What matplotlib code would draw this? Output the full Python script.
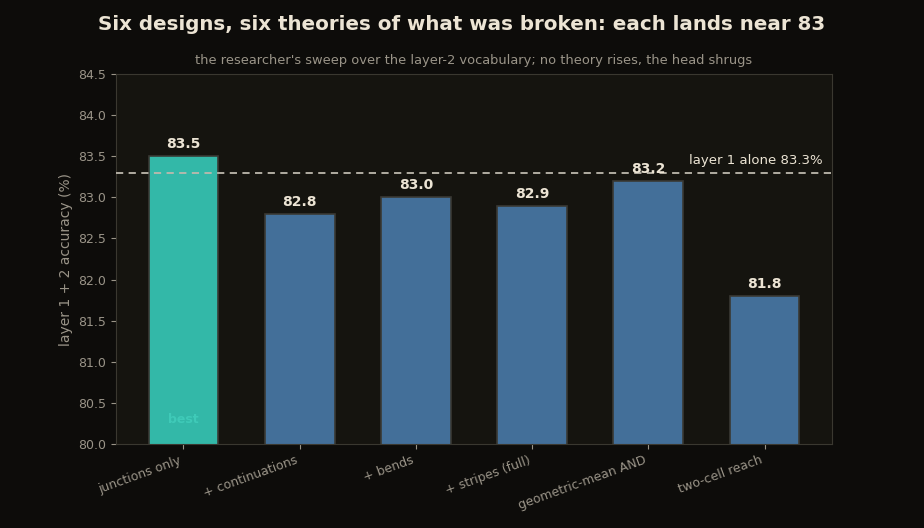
import matplotlib
matplotlib.use('Agg')
import matplotlib.pyplot as plt

labels = ['junctions only', '+ continuations', '+ bends', '+ stripes (full)',
          'geometric-mean AND', 'two-cell reach']
vals = [83.5, 82.8, 83.0, 82.9, 83.2, 81.8]
baseline = 83.3

bg = '#0d0c0a'
ax_bg = '#15140f'
txt = '#ece4d4'
muted = '#9a9488'
teal = '#33b8a8'
blue = '#436f99'

fig = plt.figure(figsize=(9.24, 5.28), dpi=100, facecolor=bg)
ax = fig.add_axes([116/924, 1-444/528, 716/924, 370/528])
ax.set_facecolor(ax_bg)

colors = [teal] + [blue]*(len(vals)-1)
x = range(len(vals))
ax.bar(x, vals, width=0.6, color=colors, edgecolor='#3a3934', linewidth=1.2, zorder=2)

for i, v in enumerate(vals):
    ax.text(i, v + 0.06, f'{v:.1f}', ha='center', va='bottom', color=txt,
            fontsize=10, fontweight='bold', zorder=4)

ax.axhline(baseline, color='#bdb8ad', linestyle='--', linewidth=1.3, dashes=(4, 3), zorder=3)
ax.text(5.5, baseline + 0.07, f'layer 1 alone {baseline}%', ha='right', va='bottom',
        color=txt, fontsize=9.5, zorder=4)

ax.text(0, 80.3, 'best', ha='center', va='center', color='#3fcab8',
        fontsize=9, fontweight='bold', zorder=4)

ax.set_ylim(80, 84.5)
ax.set_xlim(-0.58, 5.58)
ax.set_yticks([80.0 + 0.5*k for k in range(10)])
ax.set_yticklabels([f'{80.0 + 0.5*k:.1f}' for k in range(10)])
ax.set_xticks(list(x))
ax.set_xticklabels(labels, rotation=20, ha='right')
ax.tick_params(colors=muted, labelsize=9)
for s in ax.spines.values():
    s.set_color('#3a3830')
ax.set_ylabel('layer 1 + 2 accuracy (%)', color=muted, fontsize=10)
ax.set_title("the researcher's sweep over the layer-2 vocabulary; no theory rises, the head shrugs",
             color=muted, fontsize=9.4, pad=7)

fig.text(0.5, 1-25/528, 'Six designs, six theories of what was broken: each lands near 83',
         ha='center', va='center', color=txt, fontsize=14.3, fontweight='bold')

fig.savefig('out.png', dpi=100, facecolor=bg)
plt.close()
